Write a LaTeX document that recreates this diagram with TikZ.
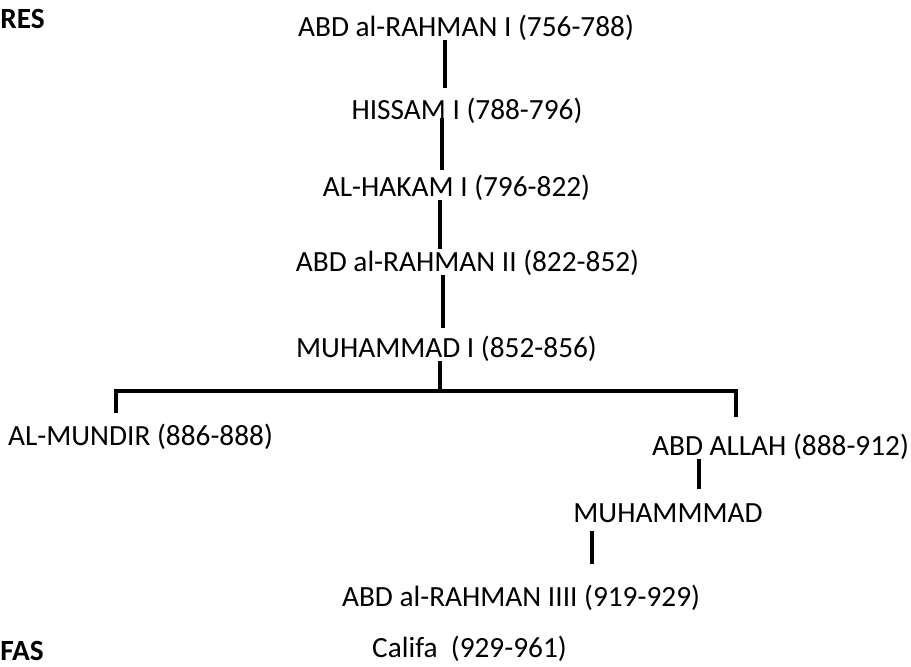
\documentclass[tikz,border=0pt]{standalone}
\usepackage{fontspec}
\setmainfont{Carlito}
\begin{document}
\begin{tikzpicture}[x=0.5pt,y=-0.5pt,
    ruler/.style={font=\fontsize{14.65}{17}\selectfont, inner sep=0pt, anchor=base},
    heading/.style={font=\fontsize{14.65}{17}\selectfont\bfseries, inner sep=0pt, anchor=base west},
    link/.style={line width=2.3pt}]
    \useasboundingbox (0,0) rectangle (911,666);

    % Titulos
    \node[heading] (emires) at (0,28) {RES};
    \node[heading] (califas) at (0,660) {FAS};

    % Emires
    \node[ruler] (abd1) at (466,36) {ABD al-RAHMAN I (756-788)};
    \node[ruler] (hissam) at (467,119) {HISSAM I (788-796)};
    \node[ruler] (hakam) at (456.5,196) {AL-HAKAM I (796-822)};
    \node[ruler] (abd2) at (467.5,271) {ABD al-RAHMAN II (822-852)};
    \node[ruler] (muh1) at (446.5,357) {MUHAMMAD I (852-856)};
    \node[ruler] (mundir) at (140.5,445) {AL-MUNDIR (886-888)};
    \node[ruler] (allah) at (780.5,455) {ABD ALLAH (888-912)};
    \node[ruler] (muh) at (668,522) {MUHAMMMAD};
    \node[ruler] (abd3) at (521,606) {ABD al-RAHMAN IIII (919-929)};
    \node[ruler] (califa) at (469.5,657) {Califa\ \ (929-961)};

    % Lineas
    \coordinate (bar) at (440,391);
    \draw[link, shorten >=4.5pt] (abd1.south -| 445,0) -- (hissam.north -| 445,0);
    \draw[link, shorten <=-2.5pt, shorten >=2pt] (hissam.south -| 442,0) -- (hakam.north -| 442,0);
    \draw[link] (hakam.south -| 440,0) -- (abd2.north -| 440,0);
    \draw[link, shorten >=3.5pt] (abd2.south -| 443,0) -- (muh1.north -| 443,0);
    \draw[link] (muh1.south -| bar) -- (bar);
    \draw[link, shorten <=5pt, shorten >=8pt] (mundir.north -| 116,0) -- (116,391) -- (736,391) -- (allah.north -| 736,0);
    \draw[link, shorten >=7pt] (allah.south -| 699,0) -- (muh.north -| 699,0);
    \draw[link, shorten <=4pt, shorten >=10pt] (muh.south -| 592,0) -- (abd3.north -| 592,0);
\end{tikzpicture}
\end{document}
